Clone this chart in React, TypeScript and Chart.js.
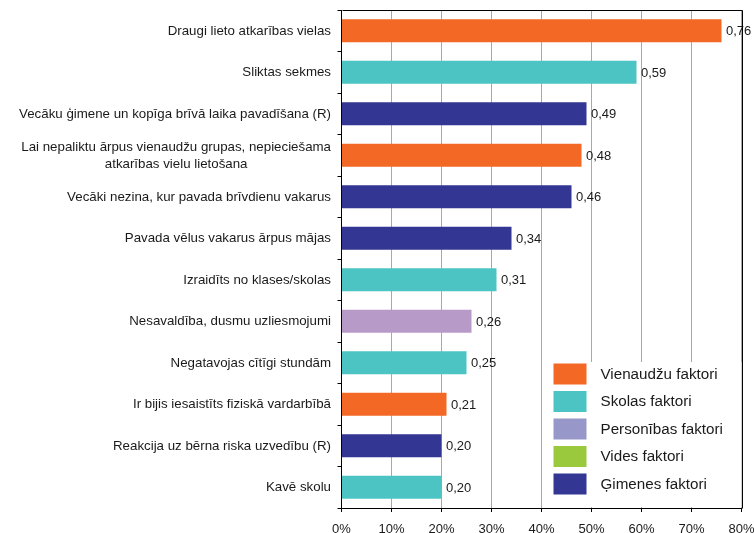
import React, { useEffect, useRef } from 'react';
import { Chart, registerables } from 'chart.js';

Chart.register(...registerables);

// ---- Data ----
const categories: string[][] = [
  ['Draugi lieto atkarības vielas'],
  ['Sliktas sekmes'],
  ['Vecāku ģimene un kopīga brīvā laika pavadīšana (R)'],
  ['Lai nepaliktu ārpus vienaudžu grupas, nepieciešama', 'atkarības vielu lietošana'],
  ['Vecāki nezina, kur pavada brīvdienu vakarus'],
  ['Pavada vēlus vakarus ārpus mājas'],
  ['Izraidīts no klases/skolas'],
  ['Nesavaldība, dusmu uzliesmojumi'],
  ['Negatavojas cītīgi stundām'],
  ['Ir bijis iesaistīts fiziskā vardarbībā'],
  ['Reakcija uz bērna riska uzvedību (R)'],
  ['Kavē skolu'],
];
const values: number[] = [0.76, 0.59, 0.49, 0.48, 0.46, 0.34, 0.31, 0.26, 0.25, 0.21, 0.2, 0.2];
const groups: string[] = [
  'peer', 'school', 'family', 'peer', 'family', 'family',
  'school', 'personal', 'school', 'peer', 'family', 'school',
];
const barColors: Record<string, string> = {
  peer: '#F36824',
  school: '#4CC4C3',
  personal: '#B89AC8',
  environment: '#9BC93D',
  family: '#333693',
};
const legendLabels: string[] = [
  'Vienaudžu faktori',
  'Skolas faktori',
  'Personības faktori',
  'Vides faktori',
  'Ģimenes faktori',
];
const legendColors: string[] = ['#F36824', '#4CC4C3', '#9797C9', '#9BC93D', '#333693'];
const xMin = 0;
const xMax = 0.8;
const xStep = 0.1;

const FONT = '"Liberation Sans", Arial, sans-serif';
const TEXT = '#1a1a1a';

const fmtValue = (v: number) => v.toFixed(2).replace('.', ',');

const drawPlugin = {
  id: 'customDraw',
  afterDraw(chart: any) {
    const ctx = chart.ctx as CanvasRenderingContext2D;
    const area = chart.chartArea;
    const xs = chart.scales.x;
    const ys = chart.scales.y;
    ctx.save();

    // category labels
    ctx.font = `13.3px ${FONT}`;
    ctx.fillStyle = TEXT;
    ctx.textBaseline = 'middle';
    const rightEdge = area.left - 10.5;
    const lh = 17;
    categories.forEach((lines, i) => {
      const y = ys.getPixelForValue(i);
      const widths = lines.map((l) => ctx.measureText(l).width);
      const maxW = Math.max(...widths);
      const cx = rightEdge - maxW / 2;
      ctx.textAlign = 'center';
      lines.forEach((l, j) => {
        const ly = y + (j - (lines.length - 1) / 2) * lh;
        ctx.fillText(l, cx, ly + 0.5);
      });
    });

    // value labels
    ctx.textAlign = 'left';
    ctx.font = `13px ${FONT}`;
    values.forEach((v, i) => {
      const x = xs.getPixelForValue(v);
      const y = ys.getPixelForValue(i);
      ctx.fillText(fmtValue(v), x + 4.5, y + 1);
    });

    // legend
    const lx = xs.getPixelForValue(0.4) + 1;
    const ltop = 362;
    ctx.fillStyle = '#ffffff';
    ctx.fillRect(lx, ltop, area.right - lx, area.bottom - 1 - ltop);
    ctx.font = `15.2px ${FONT}`;
    legendLabels.forEach((lab, i) => {
      const cy = 374 + i * 27.5;
      ctx.fillStyle = legendColors[i];
      ctx.fillRect(lx + 11, cy - 10.5, 33, 21);
      ctx.fillStyle = TEXT;
      ctx.fillText(lab, lx + 58, cy + 0.5);
    });

    // frame (top + right)
    ctx.strokeStyle = '#000';
    ctx.lineWidth = 1;
    ctx.beginPath();
    ctx.moveTo(Math.round(area.left) + 0.5, Math.round(area.top) + 0.5);
    ctx.lineTo(Math.round(area.right) + 0.5, Math.round(area.top) + 0.5);
    ctx.lineTo(Math.round(area.right) + 0.5, Math.round(area.bottom) + 0.5);
    ctx.stroke();
    ctx.restore();
  },
};

export default function App() {
  const ref = useRef<HTMLCanvasElement | null>(null);
  useEffect(() => {
    document.body.style.margin = '0';
    if (!ref.current) return;
    const chart = new Chart(ref.current, {
      type: 'bar',
      data: {
        labels: categories.map((c) => c.join(' ')),
        datasets: [
          {
            data: values,
            backgroundColor: groups.map((g) => barColors[g]),
            borderWidth: 0,
            categoryPercentage: 1,
            barPercentage: 0.555,
          },
        ],
      },
      options: {
        indexAxis: 'y',
        animation: false,
        responsive: false,
        devicePixelRatio: 1,
        layout: { padding: { top: 10, right: 12.5, left: 0, bottom: 0 } },
        plugins: {
          legend: { display: false },
          tooltip: { enabled: false },
        },
        scales: {
          x: {
            type: 'linear',
            min: xMin,
            max: xMax,
            ticks: {
              stepSize: xStep,
              callback: (v: any) => Math.round(Number(v) * 100) + '%',
              font: { family: FONT, size: 13 },
              color: TEXT,
              padding: 10,
              maxRotation: 0,
            },
            grid: {
              color: '#A8A8A8',
              tickColor: '#000',
              tickLength: 4,
              lineWidth: 1,
            },
            border: { color: '#000', width: 1 },
            afterFit: (s: any) => {
              s.height = 25;
              s.paddingLeft = 0;
              s.paddingRight = 0;
            },
          },
          y: {
            type: 'category',
            ticks: { display: false },
            grid: {
              offset: true,
              drawOnChartArea: false,
              drawTicks: true,
              tickLength: 4,
              color: '#000',
            },
            border: { color: '#000', width: 1 },
            afterFit: (s: any) => {
              s.width = 341.5;
              s.paddingTop = 0;
              s.paddingBottom = 0;
            },
          },
        },
      },
      plugins: [drawPlugin],
    });
    return () => chart.destroy();
  }, []);
  return (
    <div style={{ width: 754, height: 533, position: 'relative' }}>
      <canvas ref={ref} width={754} height={533} style={{ display: 'block' }} />
    </div>
  );
}
